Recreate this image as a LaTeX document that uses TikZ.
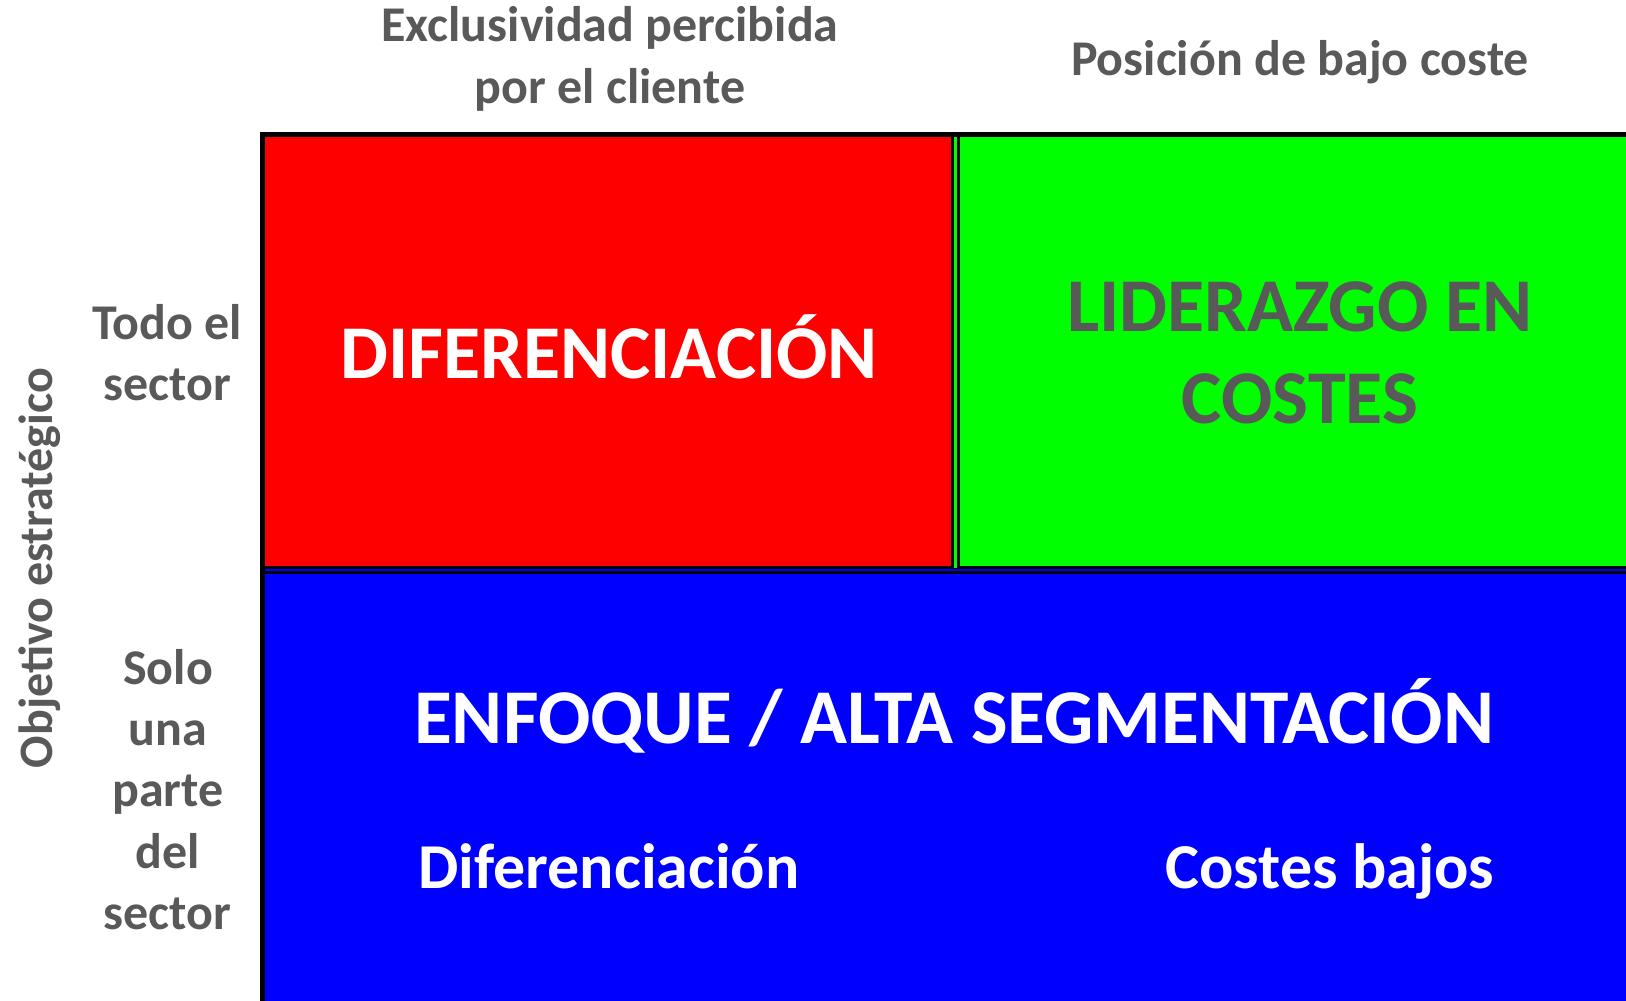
\documentclass[tikz,border=0pt]{standalone}
\usepackage{fontspec}
\setmainfont{Carlito}
\definecolor{txtgray}{HTML}{595959}
\definecolor{cred}{HTML}{FF0000}
\definecolor{cgreen}{HTML}{00FF00}
\definecolor{cblue}{HTML}{0000FF}
\tikzset{
  lbl/.style={anchor=base,inner sep=0pt,text=txtgray,font=\bfseries\fontsize{50}{60}\selectfont},
  big/.style={anchor=base,inner sep=0pt,font=\bfseries\fontsize{76}{90}\selectfont},
  sub/.style={anchor=base,inner sep=0pt,text=white,font=\bfseries\fontsize{64}{76}\selectfont},
}
\begin{document}
\begin{tikzpicture}[x=1pt,y=-1pt]
\useasboundingbox (0,0) rectangle (1626,1001);
\fill[white] (0,0) rectangle (1626,1001);
% grid
\fill[black] (260,132) rectangle (1626,1001);
\fill[cred] (265,137) rectangle (951,566);
\fill[cgreen] (954,137) rectangle (957,568);
\fill[cgreen] (960,137) rectangle (1626,566);
\fill[cblue] (265,569) rectangle (1626,571);
\fill[cblue] (265,574) rectangle (1626,1001);
% top labels
\node[lbl] (t1) at (610,41) {Exclusividad percibida};
\node[lbl] (t2) at (610,103) {por el cliente};
\node[lbl] (t3) at (1300,75) {Posición de bajo coste};
% left labels
\node[lbl] (l1) at (167,339) {Todo el};
\node[lbl] (l2) at (167,400) {sector};
\node[lbl] (s1) at (168,684) {Solo};
\node[lbl] (s2) at (168,745) {una};
\node[lbl] (s3) at (168,806) {parte};
\node[lbl] (s4) at (168,868) {del};
\node[lbl] (s5) at (167,929) {sector};
\node[lbl,rotate=90,font=\bfseries\fontsize{48}{58}\selectfont] (obj) at (52,568) {Objetivo estratégico};
% cells
\node[big,text=white] (dif) at (609,378) {DIFERENCIACIÓN};
\node[big,text=txtgray] (lid1) at (1300,331) {LIDERAZGO EN};
\node[big,text=txtgray] (lid2) at (1300,423) {COSTES};
\node[big,text=white,font=\bfseries\fontsize{77.5}{90}\selectfont] (enf) at (954,743) {ENFOQUE / ALTA SEGMENTACIÓN};
\node[sub] (d2) at (609,888) {Diferenciación};
\node[sub] (cb) at (1330,888) {Costes bajos};
\end{tikzpicture}
\end{document}
